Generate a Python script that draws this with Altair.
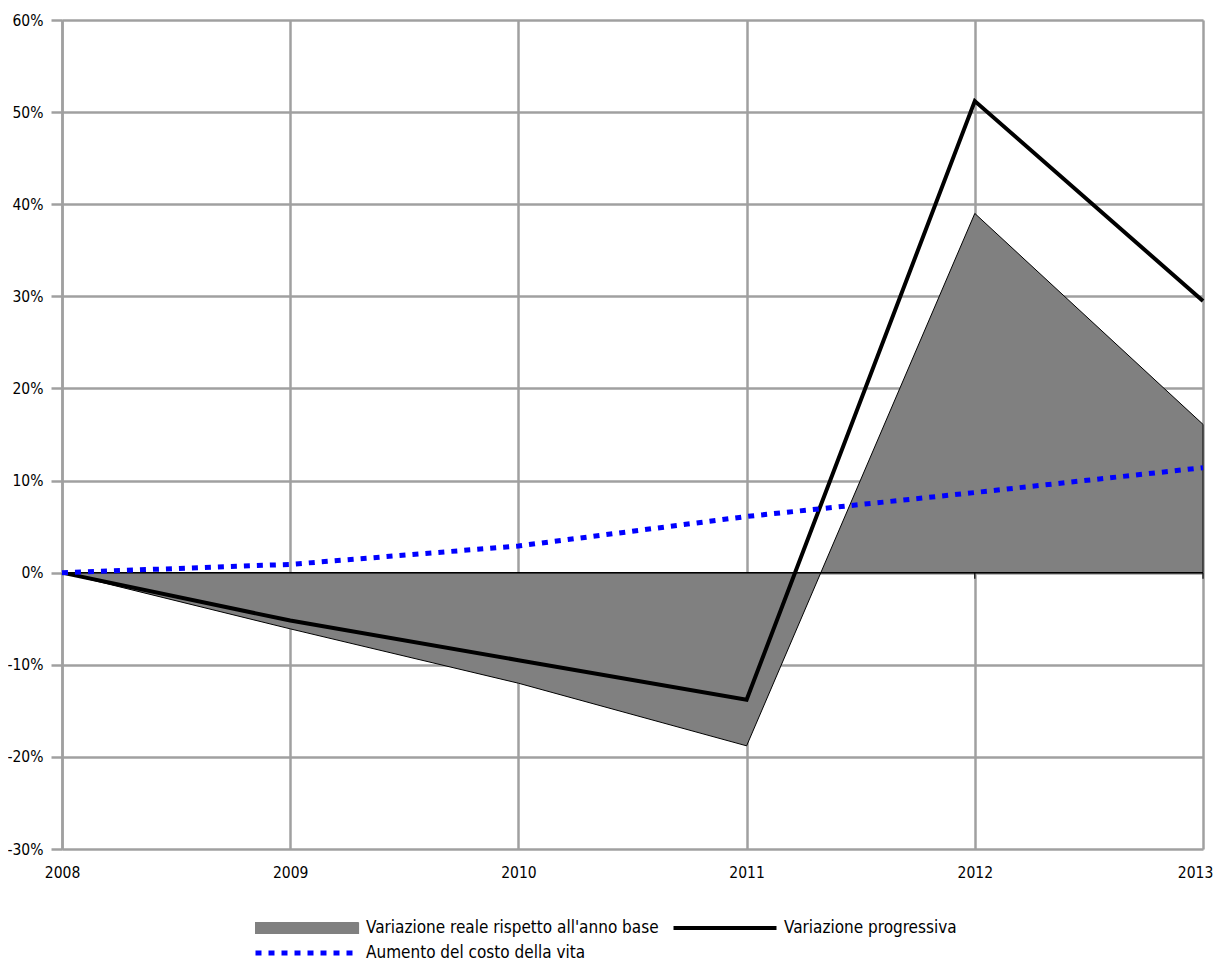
import altair as alt
import pandas as pd

years = [2008, 2009, 2010, 2011, 2012, 2013]
reale = [0.0, -0.061, -0.120, -0.188, 0.390, 0.161]
progressiva = [0.0, -0.052, -0.095, -0.138, 0.512, 0.295]
costo_vita = [0.0, 0.009, 0.029, 0.061, 0.087, 0.114]

s_reale = "Variazione reale rispetto all'anno base"
s_prog = "Variazione progressiva"
s_vita = "Aumento del costo della vita"
# legend fills column by column: (reale, vita) in column 1, prog in column 2
series_order = [s_reale, s_vita, s_prog]
series_colors = ["#808080", "#0000ff", "#000000"]

y_ticks = [-0.3, -0.2, -0.1, 0.0, 0.1, 0.2, 0.3, 0.4, 0.5, 0.6]

df = pd.concat([
    pd.DataFrame({"year": years, "value": reale, "series": s_reale}),
    pd.DataFrame({"year": years, "value": progressiva, "series": s_prog}),
    pd.DataFrame({"year": years, "value": costo_vita, "series": s_vita}),
])

FONT = "'Liberation Sans Narrow', 'DejaVu Sans Condensed', 'Arial Narrow', 'Liberation Sans', sans-serif"

legend = alt.Legend(
    title=None,
    orient="none",
    legendX=193,
    legendY=898,
    columns=2,
    symbolSize=10609,
    symbolOffset=43.5,
    clipHeight=20,
    labelFont=FONT,
    labelFontSize=17,
    labelColor="black",
    labelOffset=50.5,
    labelLimit=0,
    columnPadding=14,
    rowPadding=5,
    padding=0,
    symbolOpacity=1,
    symbolType=alt.ExprRef(expr="datum.index === 0 ? 'M-1,-0.107L1,-0.107L1,0.107L-1,0.107Z' : 'M-1,0L1,0'"),
    symbolStrokeColor=alt.ExprRef(expr="datum.index === 1 ? '#0000ff' : '#000000'"),
    symbolStrokeWidth=alt.ExprRef(expr="datum.index === 0 ? 1.2 : (datum.index === 2 ? 4 : 5)"),
    symbolDash=alt.ExprRef(expr="datum.index === 1 ? [6, 7] : [1, 0]"),
)

color_scale = alt.Scale(domain=series_order, range=series_colors)

x_enc = alt.X(
    "year:Q",
    scale=alt.Scale(domain=[2008, 2013], nice=False, zero=False),
    axis=alt.Axis(
        values=years, format="d", title=None, grid=True, gridColor="#a0a0a0", gridWidth=2.5,
        domain=False, ticks=False, labelPadding=16, labelFont=FONT, labelFontSize=15.5,
        labelColor="black", labelFlush=False,
        labelOffset={"condition": {"test": "datum.value === 2013", "value": -8}, "value": 0},
    ),
)
y_enc = alt.Y(
    "value:Q",
    scale=alt.Scale(domain=[-0.3, 0.6], nice=False, zero=False),
    axis=alt.Axis(
        values=y_ticks, format=".0%", title=None, grid=True, gridColor="#a0a0a0", gridWidth=2.5,
        labelExpr="replace(format(datum.value, '.0%'), '\u2212', '-')",
        domain=True, domainColor="#a0a0a0", domainWidth=2.5, tickColor="#a0a0a0", tickWidth=2.5,
        tickSize=11, labelPadding=8, labelFont=FONT, labelFontSize=15.5, labelColor="black",
    ),
)

base = alt.Chart(df)

tick_df = pd.DataFrame({"year": years[1:], "value": [0.0] * (len(years) - 1)})
zero_ticks = alt.Chart(tick_df).mark_tick(
    orient="vertical", size=6, thickness=1.2, color="black", yOffset=3, opacity=1
).encode(x="year:Q", y="value:Q")

area = base.transform_filter(alt.datum.series == s_reale).mark_area(opacity=1).encode(
    x=x_enc, y=y_enc,
    color=alt.Color("series:N", scale=color_scale, legend=legend, sort=series_order),
    stroke=alt.value("black"),
    strokeWidth=alt.value(1),
)

zero_df = pd.DataFrame({"year": [2008], "year2": [2013], "value": [0.0]})
zero_rule = alt.Chart(zero_df).mark_rule(color="black", strokeWidth=1.5).encode(
    x=alt.X("year:Q"), x2="year2:Q", y=alt.Y("value:Q")
)

line_prog = base.transform_filter(alt.datum.series == s_prog).mark_line(
    strokeWidth=4, strokeJoin="miter"
).encode(
    x="year:Q", y="value:Q",
    color=alt.Color("series:N", scale=color_scale, legend=None, sort=series_order),
)

line_vita = base.transform_filter(alt.datum.series == s_vita).mark_line(
    strokeWidth=5, strokeDash=[6, 7]
).encode(
    x="year:Q", y="value:Q",
    color=alt.Color("series:N", scale=color_scale, legend=None, sort=series_order),
)

chart = alt.layer(zero_ticks, area, zero_rule, line_prog, line_vita).properties(
    width=1141,
    height=829,
    autosize=alt.AutoSizeParams(type="none"),
    padding={"left": 54, "top": 12, "right": 10, "bottom": 115},
).configure_view(stroke=None).configure(background="white")

chart.save("out.html", embed_options={"renderer": "svg", "actions": False})
